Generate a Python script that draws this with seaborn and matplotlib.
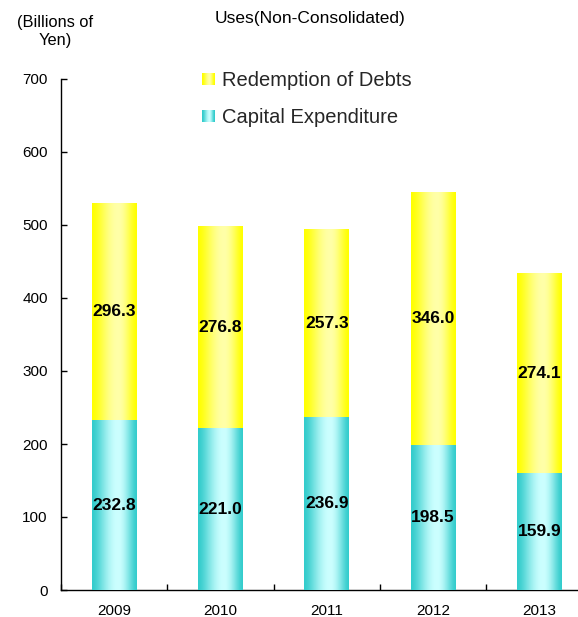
import numpy as np
import pandas as pd
import matplotlib
matplotlib.use("Agg")
import matplotlib.pyplot as plt
import seaborn as sns
from matplotlib.legend_handler import HandlerBase
from matplotlib.patches import Rectangle
from matplotlib.colors import to_rgb

# Uses of funds, billions of yen
years = ["2009", "2010", "2011", "2012", "2013"]
capital_expenditure = [232.8, 221.0, 236.9, 198.5, 159.9]
redemption_of_debts = [296.3, 276.8, 257.3, 346.0, 274.1]

YELLOW_EDGE, YELLOW_MID = "#FFFF00", "#FFFFA8"
CYAN_EDGE, CYAN_MID = "#33CCCC", "#CCFFFF"


def gradient_colors(edge, mid, n=256, peak=0.58):
    t = np.linspace(0, 1, n)
    w = np.where(t < peak, t / peak, (1 - t) / (1 - peak))
    w = np.sin(w * np.pi / 2) ** 1.5
    e, m = np.array(to_rgb(edge)), np.array(to_rgb(mid))
    return e + (m - e) * w[:, None]


class GradientHandler(HandlerBase):
    def __init__(self, edge, mid, n=14):
        super().__init__()
        self.cols = gradient_colors(edge, mid, n=n)
        self.n = n

    def create_artists(self, legend, orig_handle, xdescent, ydescent,
                       width, height, fontsize, trans):
        arts = []
        sw = width / self.n
        for k in range(self.n):
            r = Rectangle((-xdescent + k * sw, -ydescent), sw * 1.05, height,
                          facecolor=self.cols[k], edgecolor="none",
                          transform=trans)
            arts.append(r)
        return arts


sns.set_theme(style="white")
plt.rcParams["font.family"] = ["Liberation Sans", "DejaVu Sans"]

W, H = 578, 617
fig = plt.figure(figsize=(W / 100, H / 100), dpi=100)
ax = fig.add_axes([61 / W, (H - 590) / H, (W - 61) / W, 511 / H])

df = pd.DataFrame({
    "year": years,
    "capex": capital_expenditure,
    "debt": redemption_of_debts,
})
df["total"] = df["capex"] + df["debt"]

sns.barplot(data=df, x="year", y="total", color=YELLOW_EDGE, width=0.42,
            saturation=1, ax=ax)
sns.barplot(data=df, x="year", y="capex", color=CYAN_EDGE, width=0.42,
            saturation=1, ax=ax)

yellow_grad = gradient_colors(YELLOW_EDGE, YELLOW_MID)[None, :, :]
cyan_grad = gradient_colors(CYAN_EDGE, CYAN_MID)[None, :, :]
n = len(years)
for i, p in enumerate(ax.patches):
    x0, w = p.get_x(), p.get_width()
    y0, h = p.get_y(), p.get_height()
    grad = yellow_grad if i < n else cyan_grad
    ax.imshow(grad, extent=[x0, x0 + w, y0, y0 + h], aspect="auto",
              interpolation="bilinear", zorder=2 if i < n else 3)
    p.set_visible(False)

for i, (c, d) in enumerate(zip(capital_expenditure, redemption_of_debts)):
    ax.text(i, c / 2, f"{c:.1f}", ha="center", va="center",
            fontsize=12.5, fontweight="bold", color="black", zorder=5)
    ax.text(i, c + d / 2, f"{d:.1f}", ha="center", va="center",
            fontsize=12.5, fontweight="bold", color="black", zorder=5)

ax.set_xlabel("")
ax.set_ylabel("")

ax.set_yticks(range(0, 701, 100))
ax.tick_params(axis="y", which="major", direction="in", left=True, length=4,
               width=1, pad=9.5, labelsize=11, color="black",
               labelcolor="black")
ax.set_xticks(range(n))
ax.set_xticklabels(years)
ax.set_xticks(np.arange(-0.5, n, 1), minor=True)
ax.tick_params(axis="x", which="major", length=0, pad=10, labelsize=11,
               labelcolor="black")
ax.tick_params(axis="x", which="minor", direction="in", bottom=True, length=4,
               width=1, color="black")

# limits last, so the tick setters cannot widen them
ax.set_xlim(-0.5, -0.5 + (W - 61) / 106.3)
ax.set_ylim(0, 700)

for side in ("top", "right"):
    ax.spines[side].set_visible(False)
for side in ("left", "bottom"):
    ax.spines[side].set_color("black")
    ax.spines[side].set_linewidth(1)

fig.text(310 / W, 1 - 18 / H, "Uses(Non-Consolidated)", ha="center",
         va="center", fontsize=12.5, color="black")
fig.text(55.5 / W, 1 - 32 / H, "(Billions of\nYen)", ha="center",
         va="center", fontsize=11.8, linespacing=1.25, color="black")

h_debt = Rectangle((0, 0), 1, 1)
h_capex = Rectangle((0, 0), 1, 1)
ax.legend([h_debt, h_capex], ["Redemption of Debts", "Capital Expenditure"],
          handler_map={h_debt: GradientHandler(YELLOW_EDGE, YELLOW_MID),
                       h_capex: GradientHandler(CYAN_EDGE, CYAN_MID)},
          loc="upper left", bbox_to_anchor=(202 / W, 1 - 71 / H),
          bbox_transform=fig.transFigure, frameon=False, fontsize=14.5,
          handlelength=0.65, handleheight=0.55, handletextpad=0.33,
          labelspacing=0.88, borderpad=0, borderaxespad=0)

fig.savefig("out.png", dpi=100)
